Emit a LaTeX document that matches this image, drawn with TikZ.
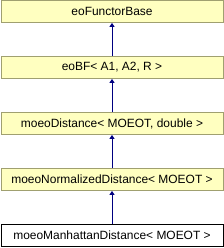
\documentclass[tikz,border=0pt]{standalone}
\usepackage{fontspec}
\setmainfont{Liberation Sans}
\usetikzlibrary{arrows.meta}
\definecolor{boxfill}{RGB}{255,255,192}
\definecolor{boxline}{RGB}{160,160,112}
\definecolor{arrowblue}{RGB}{0,0,128}
\newcommand{\drawarrow}{\draw[arrowblue, line width=0.9bp, -{Triangle[length=4bp, width=5bp]}]}
\tikzset{
    classbox/.style={draw=boxline, fill=boxfill, line width=0.8bp, minimum width=222bp,
        minimum height=22bp, inner sep=0pt, font=\fontsize{12}{14}\selectfont},
    leafbox/.style={classbox, draw=black, fill=white}
}

\begin{document}
\begin{tikzpicture}[x=1bp, y=-1bp]
    \useasboundingbox (0,0) rectangle (224,248);

    % Draw classes
    \node[classbox] (base) at (112, 11.5) {eoFunctorBase};
    \node[classbox] (bf) at (112, 67.5) {eoBF< A1, A2, R >};
    \node[classbox] (dist) at (112, 123.5) {moeoDistance< MOEOT, double >};
    \node[classbox] (norm) at (112, 179.5) {moeoNormalizedDistance< MOEOT >};
    \node[leafbox] (manh) at (112, 235.5) {moeoManhattanDistance< MOEOT >};

    % Draw inheritance
    \drawarrow (bf) -- (base);
    \drawarrow (dist) -- (bf);
    \drawarrow (norm) -- (dist);
    \drawarrow (manh) -- (norm);
\end{tikzpicture}
\end{document}
